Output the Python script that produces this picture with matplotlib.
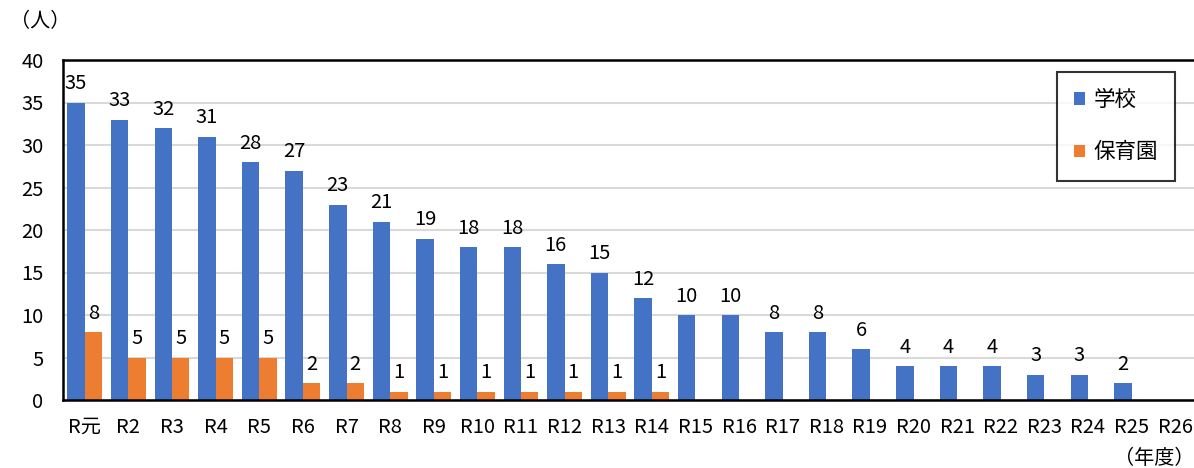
import numpy as np
import matplotlib
matplotlib.use('Agg')
from matplotlib import pyplot as plt

plt.rcParams['font.family'] = ['Noto Sans CJK JP', 'DejaVu Sans']

years = ['R元', 'R2', 'R3', 'R4', 'R5', 'R6', 'R7', 'R8', 'R9', 'R10', 'R11', 'R12', 'R13',
         'R14', 'R15', 'R16', 'R17', 'R18', 'R19', 'R20', 'R21', 'R22', 'R23', 'R24', 'R25', 'R26']
school = [35, 33, 32, 31, 28, 27, 23, 21, 19, 18, 18, 16, 15, 12, 10, 10, 8, 8, 6, 4, 4, 4, 3, 3, 2, np.nan]
nursery = [8, 5, 5, 5, 5, 2, 2, 1, 1, 1, 1, 1, 1, 1] + [np.nan] * 12

blue = '#4472c4'
orange = '#ed7d31'

fig = plt.figure(figsize=(11.94, 4.68), dpi=100)
ax = fig.add_axes([63 / 1194, 1 - 400 / 468, 1134 / 1194, 340 / 468])

x = np.arange(len(years))
w = 0.4
b1 = ax.bar(x - w / 2, school, w, color=blue, label='学校', zorder=2)
b2 = ax.bar(x + w / 2, nursery, w, color=orange, label='保育園', zorder=2)

for bars, vals in ((b1, school), (b2, nursery)):
    for r, v in zip(bars, vals):
        if np.isnan(v):
            continue
        ax.annotate(str(int(v)), (r.get_x() + r.get_width() / 2, v), xytext=(0, 6),
                    textcoords='offset points', ha='center', va='bottom', fontsize=14.5)

ax.set_xlim(-0.5, len(years) - 0.5)
ax.set_ylim(0, 40)
ax.set_yticks(range(0, 41, 5))
ax.set_xticks(x)
ax.set_xticklabels(years)
ax.tick_params(axis='both', length=0, labelsize=14.5)
ax.tick_params(axis='x', pad=12)
ax.tick_params(axis='y', pad=14)
ax.yaxis.grid(True, color='#d9d9d9', linewidth=1.5, zorder=0)
ax.set_axisbelow(True)
for s in ('left', 'bottom', 'top'):
    ax.spines[s].set_linewidth(1.8)
    ax.spines[s].set_color('black')
ax.spines['right'].set_visible(False)

leg = ax.legend(loc='upper right', bbox_to_anchor=(1175 / 1194, 1 - 72 / 468),
                bbox_transform=fig.transFigure, fontsize=15.5, frameon=True, fancybox=False,
                edgecolor='black', handlelength=0.5, handleheight=0.5, handletextpad=0.4,
                labelspacing=1.4, borderpad=0.8, borderaxespad=0)
leg.get_frame().set_linewidth(1.5)

fig.text(10 / 1194, 1 - 22 / 468, '（人）', fontsize=14.5, va='center', ha='left')
fig.text(1194 / 1194, 1 - 458 / 468, '（年度）', fontsize=14.5, va='center', ha='right')

fig.savefig('out.png', dpi=100)
